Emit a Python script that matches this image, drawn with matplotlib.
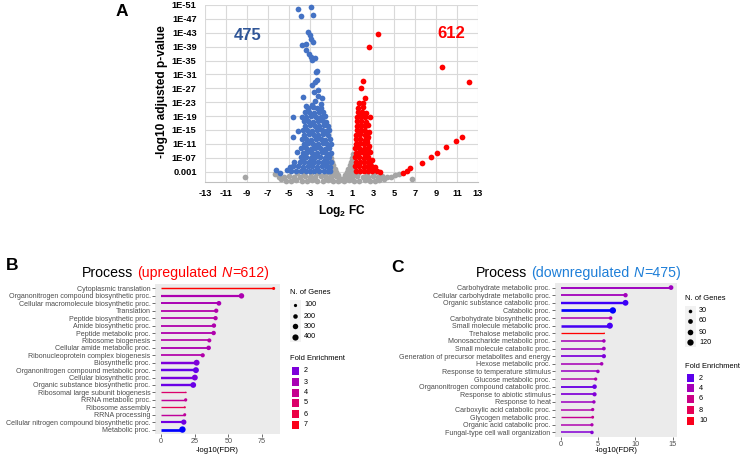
import numpy as np
import matplotlib
matplotlib.use('Agg')
import matplotlib.pyplot as plt
import matplotlib.colors as mcolors
from matplotlib.patches import Rectangle

plt.rcParams['font.family'] = ['Liberation Sans', 'DejaVu Sans']
plt.rcParams['mathtext.fontset'] = 'custom'
plt.rcParams['mathtext.rm'] = 'Liberation Sans'
plt.rcParams['mathtext.bf'] = 'Liberation Sans:bold'

# ---------------- panel A : volcano (log2 FC, -log10 padj) ----------------
down_pts = [
    (-4.17, 49.8), (-3.86, 47.8), (-2.90, 50.3), (-2.68, 48.0),
    (-3.16, 43.3), (-3.00, 42.4), (-2.88, 41.3), (-3.80, 39.5), (-3.42, 39.9),
    (-2.75, 40.4), (-3.35, 38.0), (-3.10, 37.0), (-2.95, 35.9), (-2.80, 35.2),
    (-2.52, 35.6), (-2.46, 31.8), (-2.37, 31.9), (-2.84, 28.0), (-2.52, 28.9),
    (-2.37, 29.4), (-2.27, 26.5), (-2.60, 26.0), (-1.90, 24.1), (-3.70, 24.6),
    (-2.20, 24.7), (-2.50, 23.4), (-3.35, 22.0), (-2.00, 22.6), (-2.80, 22.3),
    (-4.65, 18.8), (-3.80, 18.7), (-4.65, 13.0), (-4.27, 8.7), (-4.50, 5.9),
    (-6.24, 3.5), (-5.90, 2.7), (-4.90, 4.4), (-5.20, 3.6), (-3.67, 6.3),
    (-4.10, 14.6),
    (-4.80, 3.2), (-4.30, 3.3), (-3.90, 3.1), (-3.40, 3.2), (-3.00, 3.3),
    (-2.60, 3.1), (-2.10, 3.2), (-1.70, 3.3), (-1.30, 3.1), (-1.05, 3.2),
    (-4.60, 4.5), (-4.10, 4.6), (-3.70, 4.4), (-3.20, 4.5), (-2.80, 4.6),
    (-2.35, 4.4), (-1.90, 4.5), (-1.50, 4.6), (-1.10, 4.4),
    (-4.00, 5.8), (-3.55, 5.9), (-3.10, 5.7), (-2.65, 5.8), (-2.20, 5.9),
    (-1.80, 5.7), (-1.35, 5.8), (-1.00, 5.9),
    (-3.90, 7.1), (-3.40, 7.2), (-2.95, 7.0), (-2.50, 7.1), (-2.05, 7.2),
    (-1.60, 7.0), (-1.15, 7.1),
    (-3.70, 8.4), (-3.25, 8.5), (-2.80, 8.3), (-2.35, 8.4), (-1.90, 8.5),
    (-1.45, 8.3), (-1.00, 8.4),
    (-3.85, 9.7), (-3.40, 9.8), (-2.95, 9.6), (-2.50, 9.7), (-2.05, 9.8),
    (-1.60, 9.6), (-1.15, 9.7),
    (-3.60, 11.0), (-3.15, 11.1), (-2.70, 10.9), (-2.25, 11.0), (-1.80, 11.1),
    (-1.35, 10.9), (-1.00, 11.0),
    (-3.80, 12.3), (-3.35, 12.4), (-2.90, 12.2), (-2.45, 12.3), (-2.00, 12.4),
    (-1.55, 12.2), (-1.10, 12.3),
    (-3.55, 13.6), (-3.10, 13.7), (-2.65, 13.5), (-2.20, 13.6), (-1.75, 13.7),
    (-1.30, 13.5),
    (-3.70, 14.9), (-3.25, 15.0), (-2.80, 14.8), (-2.35, 14.9), (-1.90, 15.0),
    (-1.45, 14.8), (-1.15, 14.9),
    (-3.45, 16.2), (-3.00, 16.3), (-2.55, 16.1), (-2.10, 16.2), (-1.65, 16.3),
    (-1.30, 16.1),
    (-3.60, 17.5), (-3.15, 17.6), (-2.70, 17.4), (-2.25, 17.5), (-1.80, 17.6),
    (-1.45, 17.4),
    (-3.35, 18.8), (-2.90, 18.9), (-2.45, 18.7), (-2.00, 18.8), (-1.60, 18.9),
    (-3.50, 20.1), (-3.05, 20.2), (-2.60, 20.0), (-2.15, 20.1), (-1.75, 20.2),
    (-3.20, 21.4), (-2.75, 21.5), (-2.30, 21.3), (-1.95, 21.4),
]

up_pts = [
    (3.50, 42.7), (2.59, 39.0), (9.57, 33.2), (12.17, 28.8), (2.00, 29.1),
    (1.90, 27.0), (2.24, 24.1), (2.71, 18.8), (11.43, 13.1), (10.86, 11.9),
    (9.95, 10.0), (9.06, 8.3), (8.52, 7.1), (7.63, 5.4), (6.52, 3.9),
    (6.20, 3.2), (5.90, 2.6), (3.67, 3.0), (3.20, 4.4), (2.90, 6.4),
    (2.70, 8.7), (2.40, 11.6), (2.60, 14.5), (2.50, 16.5), (2.90, 3.5),
    (3.40, 3.2), (2.75, 5.2), (2.65, 10.3), (2.55, 13.0),
    (1.35, 3.2), (1.75, 3.3), (2.15, 3.1), (2.55, 3.2), (2.95, 3.3),
    (1.30, 4.5), (1.70, 4.6), (2.10, 4.4), (2.50, 4.5), (2.85, 4.6),
    (1.35, 5.8), (1.75, 5.9), (2.15, 5.7), (2.55, 5.8),
    (1.30, 7.1), (1.70, 7.2), (2.10, 7.0), (2.50, 7.1),
    (1.35, 8.4), (1.75, 8.5), (2.15, 8.3), (2.45, 8.4),
    (1.30, 9.7), (1.70, 9.8), (2.10, 9.6), (2.50, 9.7),
    (1.35, 11.0), (1.75, 11.1), (2.15, 10.9),
    (1.40, 12.3), (1.80, 12.4), (2.20, 12.2), (2.45, 12.3),
    (1.40, 13.6), (1.80, 13.7), (2.20, 13.5),
    (1.45, 14.9), (1.85, 15.0), (2.25, 14.8),
    (1.45, 16.2), (1.85, 16.3), (2.20, 16.1),
    (1.50, 17.5), (1.90, 17.6), (2.30, 17.4),
    (1.50, 18.8), (1.90, 18.9), (2.25, 18.7),
    (1.55, 20.1), (1.95, 20.2), (2.30, 20.0),
    (1.60, 21.4), (2.00, 21.5),
    (1.65, 22.7), (2.05, 22.8),
]

ns_pts = [
    (-9.20, 1.5), (-6.30, 2.2), (-6.00, 1.4), (-5.80, 0.8),
    (-5.30, 0.4), (-4.80, 0.3), (-4.30, 0.5), (-3.80, 0.4), (-3.30, 0.3),
    (-2.80, 0.5), (-2.30, 0.4), (-1.80, 0.3), (-1.30, 0.5), (-0.80, 0.4),
    (-0.30, 0.3), (0.20, 0.4), (0.70, 0.5), (1.20, 0.3), (1.70, 0.4),
    (2.20, 0.5), (2.70, 0.3), (3.20, 0.4), (3.60, 0.5),
    (-5.50, 1.5), (-5.00, 1.6), (-4.50, 1.4), (-4.00, 1.5), (-3.50, 1.6),
    (-3.00, 1.4), (-2.50, 1.5), (-2.00, 1.6), (-1.50, 1.4), (-1.00, 1.5),
    (-0.50, 1.6), (0.50, 1.4), (1.00, 1.5), (1.50, 1.6), (2.00, 1.4),
    (2.50, 1.5), (3.00, 1.6), (3.50, 1.4),
    (-4.20, 2.5), (-3.60, 2.4), (-2.90, 2.6), (-2.30, 2.5), (-1.60, 2.4),
    (-1.10, 2.6), (-0.70, 2.5), (0.70, 2.4), (1.10, 2.6), (1.60, 2.5),
    (2.40, 2.4), (3.10, 2.6),
    (-1.05, 7.9), (-1.00, 6.8), (-0.90, 5.8), (-1.05, 5.6), (-0.80, 4.8),
    (-1.00, 4.4), (-0.65, 3.8), (-0.90, 3.4), (-0.50, 2.9), (-0.35, 2.0),
    (-0.20, 1.2), (-0.10, 0.6),
    (1.05, 8.0), (1.00, 6.8), (0.90, 5.8), (1.10, 5.6), (0.80, 4.8),
    (1.05, 4.4), (0.65, 3.8), (0.95, 3.4), (0.50, 2.9), (0.35, 2.0),
    (0.20, 1.2), (0.10, 0.6), (1.15, 3.0),
    (3.90, 1.8), (4.30, 1.3), (4.70, 1.5), (5.10, 1.9), (5.50, 2.2),
    (4.00, 0.8), (6.70, 1.0),
]

n_down = 475
n_up = 612
fc_ticks = list(range(-13, 14, 2))
p_ticks = [3, 7, 11, 15, 19, 23, 27, 31, 35, 39, 43, 47, 51]
p_labels = ['0.001', '1E-07', '1E-11', '1E-15', '1E-19', '1E-23', '1E-27',
            '1E-31', '1E-35', '1E-39', '1E-43', '1E-47', '1E-51']

# ---------------- panel B : upregulated GO terms ----------------
up_terms = ['Cytoplasmic translation', 'Organonitrogen compound biosynthetic proc.',
            'Cellular macromolecule biosynthetic proc.', 'Translation',
            'Peptide biosynthetic proc.', 'Amide biosynthetic proc.',
            'Peptide metabolic proc.', 'Ribosome biogenesis',
            'Cellular amide metabolic proc.', 'Ribonucleoprotein complex biogenesis',
            'Biosynthetic proc.', 'Organonitrogen compound metabolic proc.',
            'Cellular biosynthetic proc.', 'Organic substance biosynthetic proc.',
            'Ribosomal large subunit biogenesis', 'RRNA metabolic proc.',
            'Ribosome assembly', 'RRNA processing',
            'Cellular nitrogen compound biosynthetic proc.', 'Metabolic proc.']
up_fdr = [83.5, 59.7, 43.0, 41.0, 40.5, 39.3, 39.1, 35.9, 35.4, 31.0,
          26.5, 26.0, 25.2, 24.0, 18.4, 18.4, 17.7, 17.7, 17.0, 16.0]
up_genes = [90, 300, 220, 180, 180, 190, 190, 160, 200, 170,
            360, 360, 350, 340, 50, 100, 55, 90, 280, 430]
up_fe = [7.3, 3.1, 3.0, 3.3, 3.3, 3.2, 3.2, 3.4, 3.1, 3.3,
         2.0, 1.6, 1.9, 1.7, 5.0, 3.8, 5.6, 3.7, 1.8, 1.05]

# ---------------- panel C : downregulated GO terms ----------------
dn_terms = ['Carbohydrate metabolic proc.', 'Cellular carbohydrate metabolic proc.',
            'Organic substance catabolic proc.', 'Catabolic proc.',
            'Carbohydrate biosynthetic proc.', 'Small molecule metabolic proc.',
            'Trehalose metabolic proc.', 'Monosaccharide metabolic proc.',
            'Small molecule catabolic proc.',
            'Generation of precursor metabolites and energy',
            'Hexose metabolic proc.', 'Response to temperature stimulus',
            'Glucose metabolic proc.', 'Organonitrogen compound catabolic proc.',
            'Response to abiotic stimulus', 'Response to heat',
            'Carboxylic acid catabolic proc.', 'Glycogen metabolic proc.',
            'Organic acid catabolic proc.', 'Fungal-type cell wall organization']
dn_fdr = [14.8, 8.7, 8.7, 7.0, 6.7, 6.6, 5.85, 5.8, 5.8, 5.8,
          5.5, 5.0, 4.7, 4.55, 4.55, 4.46, 4.3, 4.3, 4.2, 4.2]
dn_genes = [60, 50, 100, 125, 30, 110, 8, 30, 35, 45,
            30, 30, 25, 55, 45, 28, 25, 18, 25, 30]
dn_fe = [3.7, 3.9, 1.6, 1.3, 4.3, 1.7, 10.5, 4.0, 3.8, 2.7,
         4.1, 3.6, 4.5, 2.3, 2.8, 3.7, 4.6, 5.6, 4.4, 2.9]

# ---------------- helpers ----------------
W, H = 740, 458
M = np.array([[0.4124564, 0.3575761, 0.1804375],
              [0.2126729, 0.7151522, 0.0721750],
              [0.0193339, 0.1191920, 0.9503041]])
WHITE = np.array([0.95047, 1.0, 1.08883])


def to_lab(c):
    rgb = np.array(mcolors.to_rgb(c))
    lin = np.where(rgb <= 0.04045, rgb / 12.92, ((rgb + 0.055) / 1.055) ** 2.4)
    xyz = M @ lin / WHITE
    f = np.where(xyz > 0.008856, np.cbrt(xyz), 7.787 * xyz + 16 / 116)
    return np.array([116 * f[1] - 16, 500 * (f[0] - f[1]), 200 * (f[1] - f[2])])


def from_lab(lab):
    fy = (lab[0] + 16) / 116
    f = np.array([fy + lab[1] / 500, fy, fy - lab[2] / 200])
    xyz = np.where(f ** 3 > 0.008856, f ** 3, (f - 16 / 116) / 7.787) * WHITE
    lin = np.clip(np.linalg.solve(M, xyz), 0, 1)
    rgb = np.where(lin <= 0.0031308, 12.92 * lin, 1.055 * lin ** (1 / 2.4) - 0.055)
    return tuple(np.clip(rgb, 0, 1))


LAB_LO, LAB_HI = to_lab('blue'), to_lab('red')


def grad(v, lo, hi):
    t = min(max((v - lo) / (hi - lo), 0), 1)
    return from_lab(LAB_LO + t * (LAB_HI - LAB_LO))


def dot_px(n, lo, hi):
    t = max((n - lo) / (hi - lo), 0)
    return 1.4 + 5.0 * np.sqrt(t)


def box(x0, y0, x1, y1):
    return [x0 / W, 1 - y1 / H, (x1 - x0) / W, (y1 - y0) / H]


fig = plt.figure(figsize=(7.4, 4.58), dpi=100)

# ---------------- volcano ----------------
axA = fig.add_axes(box(205, 5, 478, 182))
ns = np.array(ns_pts)
dn = np.array(down_pts)
up = np.array(up_pts)
axA.scatter(ns[:, 0], ns[:, 1], s=17, c='#A5A5A5', linewidths=0, clip_on=False, zorder=3)
axA.scatter(dn[:, 0], dn[:, 1], s=17, c='#4472C4', linewidths=0, clip_on=False, zorder=4)
axA.scatter(up[:, 0], up[:, 1], s=17, c='#FF0000', linewidths=0, clip_on=False, zorder=4)
axA.set_xlim(-13, 13)
axA.set_ylim(0, 51)
axA.set_xticks(fc_ticks)
axA.set_xticklabels([str(v) for v in fc_ticks], fontweight='bold', fontsize=6.7)
axA.set_yticks(p_ticks)
axA.set_yticklabels(p_labels, fontweight='bold', fontsize=6.7)
axA.tick_params(length=0)
axA.tick_params(axis='x', pad=5)
axA.tick_params(axis='y', pad=6)
axA.grid(True, color='#D9D9D9', lw=0.8)
axA.set_axisbelow(True)
for s in ['top', 'right', 'left']:
    axA.spines[s].set_visible(False)
axA.spines['bottom'].set_color('#BFBFBF')
axA.spines['bottom'].set_linewidth(0.8)

# ---------------- lollipops ----------------
def lollipop(ax, terms, fdr, genes, fe, xlim, xticks):
    n = len(terms)
    ys = np.arange(n, 0, -1)
    flo, fhi = min(fe), max(fe)
    glo, ghi = min(genes), max(genes)
    cols = [grad(f, flo, fhi) for f in fe]
    for x, y, g, c in zip(fdr, ys, genes, cols):
        lw = (1.3 + 1.4 * (g - glo) / (ghi - glo)) * 0.72
        ax.plot([0, x], [y, y], color=c, lw=lw, solid_capstyle='butt', zorder=2)
    sizes = [(dot_px(g, glo, ghi) * 0.72) ** 2 for g in genes]
    ax.scatter(fdr, ys, s=sizes, c=cols, linewidths=0, zorder=3)
    ax.set_facecolor('#EBEBEB')
    for s in ax.spines.values():
        s.set_visible(False)
    ax.set_xlim(*xlim)
    ax.set_ylim(0.4, n + 0.6)
    ax.set_yticks(ys)
    ax.set_yticklabels(terms, fontsize=5.15, color='#4D4D4D')
    ax.set_xticks(xticks)
    ax.set_xticklabels([str(v) for v in xticks], fontsize=5.2, color='#4D4D4D')
    ax.tick_params(length=2, width=0.5, color='#333333', pad=1.2)


axB = fig.add_axes(box(155, 284, 280, 434))
lollipop(axB, up_terms, up_fdr, up_genes, up_fe, (-4.3, 88.2), [0, 25, 50, 75])
axC = fig.add_axes(box(555, 283, 677, 437))
lollipop(axC, dn_terms, dn_fdr, dn_genes, dn_fe, (-0.75, 15.6), [0, 5, 10, 15])

# ---------------- overlay: labels, titles, legends ----------------
ov = fig.add_axes([0, 0, 1, 1])
ov.set_xlim(0, W)
ov.set_ylim(H, 0)
ov.axis('off')
ov.patch.set_alpha(0)

ov.text(122, 12, 'A', fontsize=12.5, fontweight='bold', ha='center', va='center')
ov.text(12, 266, 'B', fontsize=12.5, fontweight='bold', ha='center', va='center')
ov.text(398, 267, 'C', fontsize=12.5, fontweight='bold', ha='center', va='center')

ov.text(248, 36, str(n_down), fontsize=12, fontweight='bold', color='#2F5597',
        ha='center', va='center')
ov.text(451, 33, str(n_up), fontsize=12, fontweight='bold', color='#FF0000',
        ha='center', va='center')
ov.text(162, 92, '-log10 adjusted p-value', fontsize=8.6, fontweight='bold',
        rotation=90, ha='center', va='center')
ov.text(342, 211, r'$\mathbf{Log_2\ FC}$', fontsize=8.6, ha='center', va='center')

ov.text(217, 450, '-log10(FDR)', fontsize=5.6, ha='center', va='center')
ov.text(616, 451, '-log10(FDR)', fontsize=5.6, ha='center', va='center')

renderer = fig.canvas.get_renderer()


def title(x, y, parts, fs=10.2):
    space = 0.278 * fs / 72 * 100
    for s, c, style, gap in parts:
        t = ov.text(x, y, s, color=c, fontsize=fs, style=style, ha='left', va='baseline')
        x += t.get_window_extent(renderer).width + (space if gap else 0.6)


title(82, 277, [('Process', 'black', 'normal', True),
                ('(upregulated', '#FF0000', 'normal', True),
                ('N', '#FF0000', 'italic', False),
                ('=%d)' % n_up, '#FF0000', 'normal', False)])
title(476, 277, [('Process', 'black', 'normal', True),
                 ('(downregulated', '#1E7FD8', 'normal', True),
                 ('N', '#1E7FD8', 'italic', False),
                 ('=%d)' % n_down, '#1E7FD8', 'normal', False)])


def legend(x, y1, svals, sys_, y2, fvals, fys, genes, fe):
    glo, ghi = min(genes), max(genes)
    flo, fhi = min(fe), max(fe)
    ov.text(x, y1, 'N. of Genes', fontsize=5.4, va='center', ha='left')
    ov.add_patch(Rectangle((x - 0.5, sys_[0] - 5.3), 11, sys_[-1] - sys_[0] + 10.6,
                           fc='#F2F2F2', ec='none'))
    for v, yy in zip(svals, sys_):
        ov.scatter([x + 5], [yy], s=(dot_px(v, glo, ghi) * 0.72) ** 2, c='black',
                   linewidths=0)
        ov.text(x + 14, yy, str(v), fontsize=5.2, va='center', ha='left')
    ov.text(x, y2, 'Fold Enrichment', fontsize=5.4, va='center', ha='left')
    for v, yy in zip(fvals, fys):
        ov.add_patch(Rectangle((x + 1.5, yy - 3.6), 7.2, 7.2, fc=grad(v, flo, fhi), ec='none'))
        ov.text(x + 14, yy, str(v), fontsize=5.2, va='center', ha='left')


legend(290, 293, [100, 200, 300, 400], [305, 316, 326, 337],
       359, [2, 3, 4, 5, 6, 7], [371, 382, 393, 403, 414, 425], up_genes, up_fe)
legend(685, 298, [30, 60, 90, 120], [311, 321, 332, 342],
       366, [2, 4, 6, 8, 10], [378, 388, 399, 410, 421], dn_genes, dn_fe)

fig.savefig('out.png', dpi=100)
